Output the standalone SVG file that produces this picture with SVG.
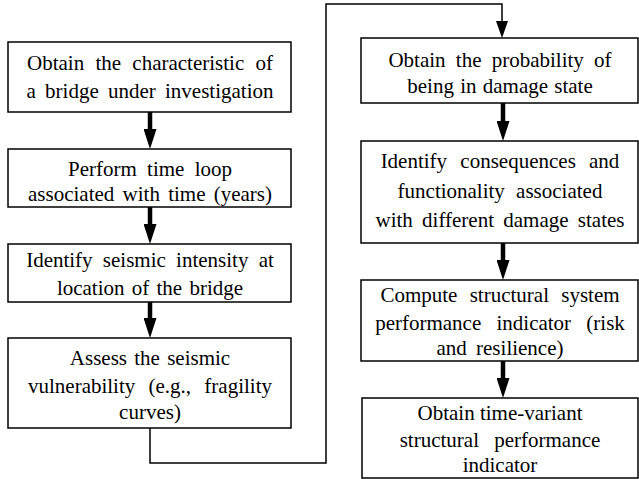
<svg xmlns="http://www.w3.org/2000/svg" width="639" height="479" viewBox="0 0 639 479">
<style>
.box{fill:#fff;stroke:#000;stroke-width:1.5}
.t{font-family:"Liberation Serif","Times New Roman",serif;font-size:21px;fill:#000;text-anchor:middle}
.thick{stroke:#000;stroke-width:4.5;fill:none}
.thin{stroke:#000;stroke-width:1.5;fill:none}
</style>
<defs>
<marker id="ah" markerUnits="userSpaceOnUse" markerWidth="20" markerHeight="13" refX="0" refY="6.5" orient="auto">
<path d="M0,0 L20,6.5 L0,13 z" fill="#000"/>
</marker>
<marker id="ah2" markerUnits="userSpaceOnUse" markerWidth="17" markerHeight="12" refX="0" refY="6" orient="auto">
<path d="M0,0 L17,6 L0,12 z" fill="#000"/>
</marker>
</defs>
<g id="connectors">
<line class="thick" x1="150" y1="112" x2="150" y2="129" marker-end="url(#ah)"/>
<line class="thick" x1="150" y1="207" x2="150" y2="224" marker-end="url(#ah)"/>
<line class="thick" x1="150" y1="302" x2="150" y2="318" marker-end="url(#ah)"/>
<line class="thick" x1="503" y1="103" x2="503" y2="121" marker-end="url(#ah)"/>
<line class="thick" x1="503" y1="243" x2="503" y2="260" marker-end="url(#ah)"/>
<line class="thick" x1="503" y1="361" x2="503" y2="378" marker-end="url(#ah)"/>
<polyline class="thin" points="150,428 150,463 326,463 326,4 502,4 502,21" marker-end="url(#ah2)"/>
</g>
<g id="n1"><rect class="box" x="8" y="42" width="283" height="70"/>
<text class="t" x="150" y="70" word-spacing="6">Obtain the characteristic of</text>
<text class="t" x="150" y="98" word-spacing="4">a bridge under investigation</text></g>
<g id="n2"><rect class="box" x="8" y="149" width="283" height="58"/>
<text class="t" x="150" y="176" word-spacing="5">Perform time loop</text>
<text class="t" x="150" y="201" word-spacing="3">associated with time (years)</text></g>
<g id="n3"><rect class="box" x="8" y="244" width="283" height="58"/>
<text class="t" x="150" y="267" word-spacing="5">Identify seismic intensity at</text>
<text class="t" x="150" y="295" word-spacing="2">location of the bridge</text></g>
<g id="n4"><rect class="box" x="8" y="338" width="283" height="90"/>
<text class="t" x="150" y="365" word-spacing="2">Assess the seismic</text>
<text class="t" x="150" y="393" word-spacing="8">vulnerability (e.g., fragility</text>
<text class="t" x="150" y="419">curves)</text></g>
<g id="n5"><rect class="box" x="361" y="38" width="277" height="65"/>
<text class="t" x="500" y="67" word-spacing="5">Obtain the probability of</text>
<text class="t" x="500" y="93" word-spacing="1">being in damage state</text></g>
<g id="n6"><rect class="box" x="361" y="141" width="277" height="102"/>
<text class="t" x="500" y="168" word-spacing="8">Identify consequences and</text>
<text class="t" x="500" y="198" word-spacing="6">functionality associated</text>
<text class="t" x="500" y="227" word-spacing="4">with different damage states</text></g>
<g id="n7"><rect class="box" x="361" y="280" width="277" height="81"/>
<text class="t" x="500" y="302" word-spacing="7">Compute structural system</text>
<text class="t" x="500" y="330" word-spacing="10">performance indicator (risk</text>
<text class="t" x="500" y="355" word-spacing="4">and resilience)</text></g>
<g id="n8"><rect class="box" x="362" y="398" width="276" height="80"/>
<text class="t" x="500" y="420">Obtain time-variant</text>
<text class="t" x="500" y="447" word-spacing="10">structural performance</text>
<text class="t" x="500" y="472">indicator</text></g>
</svg>
